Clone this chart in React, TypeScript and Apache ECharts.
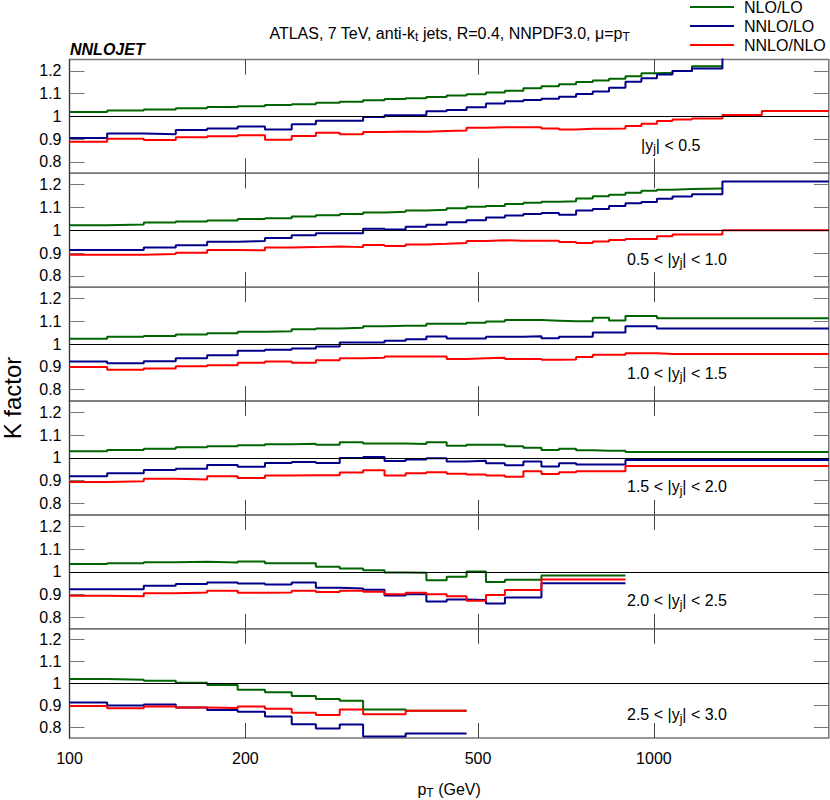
import React, { useEffect, useRef } from 'react';
import * as echarts from 'echarts';

// ---------- data ----------
const PT_EDGES = [100, 116, 134, 152, 172, 194, 216, 240, 264, 290, 318, 346, 376, 408, 442, 478, 516, 556, 598, 642, 688, 736, 786, 838, 894, 952, 1012, 1076, 1162, 1310, 1530, 1992];

const SERIES_NAMES = ['NLO/LO', 'NNLO/LO', 'NNLO/NLO'];
const SERIES_COLORS = ['#006400', '#00008b', '#ff0000'];

const PANEL_LABELS = [
  '{n||y}{s|j}{n|| < 0.5}',
  '{n|0.5 < |y}{s|j}{n|| < 1.0}',
  '{n|1.0 < |y}{s|j}{n|| < 1.5}',
  '{n|1.5 < |y}{s|j}{n|| < 2.0}',
  '{n|2.0 < |y}{s|j}{n|| < 2.5}',
  '{n|2.5 < |y}{s|j}{n|| < 3.0}',
];

const Y_TICKS = [0.8, 0.9, 1, 1.1, 1.2];
const X_TICKS = [200, 500, 1000];
const X_LABELS = [100, 200, 500, 1000];

// |y| < 0.5
const NLO_LO_Y0 = [1.019, 1.026, 1.030, 1.036, 1.041, 1.045, 1.050, 1.054, 1.060, 1.064, 1.071, 1.076, 1.080, 1.085, 1.092, 1.097, 1.105, 1.113, 1.124, 1.133, 1.141, 1.151, 1.158, 1.166, 1.176, 1.190, 1.192, 1.200, 1.220];
const NNLO_LO_Y0 = [0.905, 0.925, 0.922, 0.940, 0.947, 0.956, 0.943, 0.966, 0.981, 0.981, 0.998, 1.005, 1.006, 1.023, 1.028, 1.040, 1.057, 1.067, 1.072, 1.078, 1.086, 1.098, 1.110, 1.126, 1.152, 1.168, 1.184, 1.200, 1.210, 1.300];
const NNLO_NLO_Y0 = [0.889, 0.902, 0.896, 0.908, 0.913, 0.917, 0.898, 0.914, 0.928, 0.922, 0.932, 0.934, 0.933, 0.936, 0.938, 0.950, 0.953, 0.953, 0.952, 0.947, 0.943, 0.946, 0.946, 0.947, 0.958, 0.968, 0.980, 0.987, 0.991, 1.006, 1.024];

// 0.5 < |y| < 1.0
const NLO_LO_Y1 = [1.022, 1.025, 1.034, 1.038, 1.043, 1.049, 1.053, 1.060, 1.066, 1.071, 1.078, 1.081, 1.087, 1.090, 1.097, 1.103, 1.107, 1.115, 1.121, 1.125, 1.128, 1.140, 1.149, 1.156, 1.165, 1.174, 1.178, 1.181, 1.184];
const NNLO_LO_Y1 = [0.913, 0.913, 0.924, 0.934, 0.950, 0.953, 0.966, 0.978, 0.987, 0.987, 1.007, 1.003, 1.015, 1.024, 1.035, 1.044, 1.056, 1.065, 1.071, 1.076, 1.068, 1.087, 1.093, 1.107, 1.119, 1.124, 1.138, 1.148, 1.158, 1.214, 1.214];
const NNLO_NLO_Y1 = [0.893, 0.893, 0.896, 0.901, 0.913, 0.912, 0.924, 0.926, 0.929, 0.926, 0.935, 0.931, 0.938, 0.941, 0.944, 0.953, 0.956, 0.954, 0.954, 0.954, 0.949, 0.944, 0.951, 0.957, 0.962, 0.962, 0.974, 0.981, 0.981, 1.000, 1.000];

// 1.0 < |y| < 1.5
const NLO_LO_Y2 = [1.024, 1.032, 1.036, 1.042, 1.048, 1.054, 1.056, 1.065, 1.069, 1.072, 1.078, 1.081, 1.081, 1.090, 1.090, 1.094, 1.099, 1.106, 1.106, 1.103, 1.100, 1.100, 1.116, 1.104, 1.123, 1.123, 1.114, 1.114, 1.114, 1.114, 1.114];
const NNLO_LO_Y2 = [0.924, 0.916, 0.925, 0.938, 0.951, 0.971, 0.975, 0.981, 0.990, 1.007, 1.007, 1.015, 1.021, 1.034, 1.025, 1.025, 1.032, 1.032, 1.035, 1.026, 1.032, 1.032, 1.051, 1.051, 1.079, 1.079, 1.069, 1.069, 1.069, 1.069, 1.069];
const NNLO_NLO_Y2 = [0.900, 0.888, 0.893, 0.903, 0.907, 0.918, 0.924, 0.918, 0.929, 0.938, 0.940, 0.946, 0.946, 0.946, 0.935, 0.938, 0.940, 0.935, 0.935, 0.931, 0.932, 0.944, 0.953, 0.953, 0.960, 0.960, 0.957, 0.957, 0.957, 0.957, 0.957];

// 1.5 < |y| < 2.0
const NLO_LO_Y3 = [1.029, 1.035, 1.041, 1.047, 1.051, 1.056, 1.060, 1.063, 1.058, 1.069, 1.064, 1.064, 1.061, 1.069, 1.054, 1.058, 1.058, 1.051, 1.045, 1.035, 1.041, 1.034, 1.032, 1.032, 1.026, 1.026, 1.026, 1.026, 1.026, 1.026, 1.026];
const NNLO_LO_Y3 = [0.920, 0.933, 0.947, 0.953, 0.969, 0.962, 0.978, 0.982, 0.978, 1.000, 1.004, 0.987, 0.993, 0.999, 0.985, 0.988, 0.977, 0.968, 0.985, 0.963, 0.977, 0.971, 0.971, 0.971, 0.991, 0.991, 0.991, 0.991, 0.991, 0.991, 0.991];
const NNLO_NLO_Y3 = [0.895, 0.898, 0.909, 0.906, 0.920, 0.912, 0.923, 0.924, 0.924, 0.936, 0.946, 0.923, 0.933, 0.937, 0.931, 0.927, 0.923, 0.918, 0.942, 0.930, 0.937, 0.942, 0.942, 0.942, 0.965, 0.965, 0.965, 0.965, 0.965, 0.965, 0.965];

// 2.0 < |y| < 2.5
const NLO_LO_Y4 = [1.034, 1.038, 1.042, 1.044, 1.041, 1.045, 1.038, 1.038, 1.022, 1.015, 1.007, 0.997, 0.996, 0.963, 0.978, 1.001, 0.955, 0.965, 0.965, 0.984, 0.984, 0.984, 0.984, 0.984];
const NNLO_LO_Y4 = [0.924, 0.924, 0.939, 0.946, 0.953, 0.949, 0.944, 0.953, 0.930, 0.927, 0.921, 0.896, 0.901, 0.870, 0.879, 0.876, 0.861, 0.887, 0.887, 0.950, 0.950, 0.950, 0.950, 0.950];
const NNLO_NLO_Y4 = [0.895, 0.893, 0.906, 0.909, 0.917, 0.908, 0.909, 0.917, 0.911, 0.917, 0.912, 0.901, 0.908, 0.901, 0.893, 0.873, 0.898, 0.920, 0.920, 0.966, 0.966, 0.966, 0.966, 0.966];

// 2.5 < |y| < 3.0
const NLO_LO_Y5 = [1.020, 1.017, 1.012, 1.003, 0.993, 0.971, 0.959, 0.942, 0.928, 0.920, 0.881, 0.881, 0.875, 0.875, 0.875];
const NNLO_LO_Y5 = [0.912, 0.899, 0.903, 0.890, 0.878, 0.870, 0.848, 0.813, 0.793, 0.812, 0.757, 0.757, 0.771, 0.771, 0.771];
const NNLO_NLO_Y5 = [0.896, 0.886, 0.894, 0.890, 0.887, 0.894, 0.884, 0.865, 0.855, 0.880, 0.859, 0.859, 0.875, 0.875, 0.875];

const PANELS = [
  [NLO_LO_Y0, NNLO_LO_Y0, NNLO_NLO_Y0],
  [NLO_LO_Y1, NNLO_LO_Y1, NNLO_NLO_Y1],
  [NLO_LO_Y2, NNLO_LO_Y2, NNLO_NLO_Y2],
  [NLO_LO_Y3, NNLO_LO_Y3, NNLO_NLO_Y3],
  [NLO_LO_Y4, NNLO_LO_Y4, NNLO_NLO_Y4],
  [NLO_LO_Y5, NNLO_LO_Y5, NNLO_NLO_Y5],
];

// ---------- layout ----------
const FONT = '"Liberation Sans", Arial, sans-serif';
const GRID_LEFT = 69.5;
const GRID_WIDTH = 759.3;
const GRID_TOP = 59.5;
const PANEL_H = 113.85;
const LABEL_X = [641, 627, 627, 627, 627, 627];

function histPoints(values: number[]) {
  const pts: number[][] = values.map((v, i) => [PT_EDGES[i], v]);
  pts.push([PT_EDGES[values.length], values[values.length - 1]]);
  return pts;
}

const subRich = {
  n: { fontSize: 16, lineHeight: 20, fontFamily: FONT, fill: '#000', color: '#000' },
  s: { fontSize: 12, lineHeight: 12, verticalAlign: 'bottom', fontFamily: FONT, fill: '#000', color: '#000' },
};

function buildOption() {
  const grid: any[] = [];
  const xAxis: any[] = [];
  const yAxis: any[] = [];
  const series: any[] = [];
  const graphic: any[] = [];

  PANELS.forEach((panel, i) => {
    const last = i === PANELS.length - 1;
    grid.push({
      left: GRID_LEFT,
      top: GRID_TOP + i * PANEL_H,
      width: GRID_WIDTH,
      height: PANEL_H,
      show: true,
      borderColor: '#777',
      borderWidth: 1.5,
      backgroundColor: 'transparent',
    });
    const xBase = {
      type: 'log',
      logBase: 10,
      gridIndex: i,
      min: 100,
      max: 1992,
      axisLine: { show: false },
      splitLine: { show: false },
      axisTick: { show: true, inside: true, length: 15, customValues: X_TICKS, lineStyle: { color: '#444', width: 1 } },
    };
    xAxis.push({
      ...xBase,
      position: 'bottom',
      axisLabel: last
        ? { show: true, customValues: X_LABELS, fontSize: 16, fontFamily: FONT, color: '#000', margin: 12, formatter: (v: number) => String(Math.round(v)) }
        : { show: false },
      ...(last
        ? {
            name: '{a|p}{s|T}{a| (GeV)}',
            nameLocation: 'middle',
            nameGap: 41,
            nameTextStyle: {
              color: '#000',
              rich: {
                a: { fontSize: 16, lineHeight: 20, fontFamily: FONT, color: '#000' },
                s: { fontSize: 12, lineHeight: 12, verticalAlign: 'bottom', fontFamily: FONT, color: '#000' },
              },
            },
          }
        : {}),
    });
    xAxis.push({ ...xBase, position: 'top', axisLabel: { show: false } });

    const yBase = {
      type: 'value',
      gridIndex: i,
      min: 0.75,
      max: 1.25,
      splitLine: { show: false },
      axisTick: { show: true, inside: true, length: 15, customValues: Y_TICKS, lineStyle: { color: '#777', width: 1 } },
    };
    yAxis.push({
      ...yBase,
      position: 'left',
      axisLine: { show: true, lineStyle: { color: '#333', width: 1 } },
      axisLabel: { show: true, customValues: Y_TICKS, fontSize: 16, fontFamily: FONT, color: '#000', margin: 8, formatter: (v: number) => String(Math.round(v * 10) / 10) },
    });
    yAxis.push({ ...yBase, position: 'right', axisLine: { show: false }, axisLabel: { show: false } });

    panel.forEach((vals, k) => {
      series.push({
        type: 'line',
        name: SERIES_NAMES[k],
        xAxisIndex: 2 * i,
        yAxisIndex: 2 * i,
        data: histPoints(vals),
        step: 'end',
        symbol: 'none',
        showSymbol: false,
        clip: true,
        silent: true,
        lineStyle: { color: SERIES_COLORS[k], width: 2 },
        itemStyle: { color: SERIES_COLORS[k] },
        ...(k === 0
          ? {
              markLine: {
                silent: true,
                symbol: ['none', 'none'],
                label: { show: false },
                lineStyle: { color: '#000', width: 1, type: 'solid' },
                emphasis: { disabled: true },
                data: [{ yAxis: 1 }],
              },
            }
          : {}),
      });
    });

    graphic.push({
      type: 'text',
      x: LABEL_X[i],
      y: GRID_TOP + i * PANEL_H + PANEL_H / 2 + 29,
      style: {
        text: PANEL_LABELS[i],
        rich: subRich,
        fontSize: 16,
        fontFamily: FONT,
        fill: '#000',
        align: 'left',
        textAlign: 'left',
        verticalAlign: 'middle',
        textVerticalAlign: 'middle',
      },
    });
  });

  graphic.push({
    type: 'text',
    x: 449.5,
    y: 33,
    style: {
      text: '{n|ATLAS, 7 TeV, anti-k}{s|t}{n| jets, R=0.4, NNPDF3.0, μ=p}{s|T}',
      rich: subRich,
      fontSize: 16,
      fontFamily: FONT,
      fill: '#000',
      align: 'center',
      textAlign: 'center',
      verticalAlign: 'middle',
      textVerticalAlign: 'middle',
    },
  });
  graphic.push({
    type: 'text',
    x: 70,
    y: 49,
    style: {
      text: 'NNLOJET',
      fontSize: 16,
      fontWeight: 'bold',
      fontStyle: 'italic',
      fontFamily: FONT,
      fill: '#000',
      align: 'left',
      textAlign: 'left',
      verticalAlign: 'middle',
      textVerticalAlign: 'middle',
    },
  });
  graphic.push({
    type: 'text',
    x: 12,
    y: 398,
    rotation: Math.PI / 2,
    style: {
      text: 'K factor',
      fontSize: 24,
      fontFamily: FONT,
      fill: '#000',
      align: 'center',
      textAlign: 'center',
      verticalAlign: 'middle',
      textVerticalAlign: 'middle',
    },
  });

  return {
    animation: false,
    backgroundColor: '#fff',
    textStyle: { fontFamily: FONT },
    grid,
    xAxis,
    yAxis,
    series,
    graphic,
    legend: {
      data: SERIES_NAMES,
      orient: 'vertical',
      left: 689,
      top: -2.5,
      padding: 0,
      itemWidth: 44,
      itemHeight: 19,
      itemGap: 0,
      selectedMode: false,
      itemStyle: { opacity: 0 },
      lineStyle: { width: 2 },
      textStyle: { color: '#000', fontSize: 16, fontFamily: FONT, lineHeight: 19, padding: [0, 0, 0, 5] },
    },
  };
}

export default function App() {
  const ref = useRef<HTMLDivElement>(null);
  useEffect(() => {
    if (!ref.current) return;
    const chart = echarts.init(ref.current, undefined, { renderer: 'svg' });
    chart.setOption(buildOption() as any);
    return () => chart.dispose();
  }, []);
  return (
    <div
      ref={ref}
      style={{ position: 'fixed', left: 0, top: 0, width: 830, height: 800, background: '#fff' }}
    />
  );
}
